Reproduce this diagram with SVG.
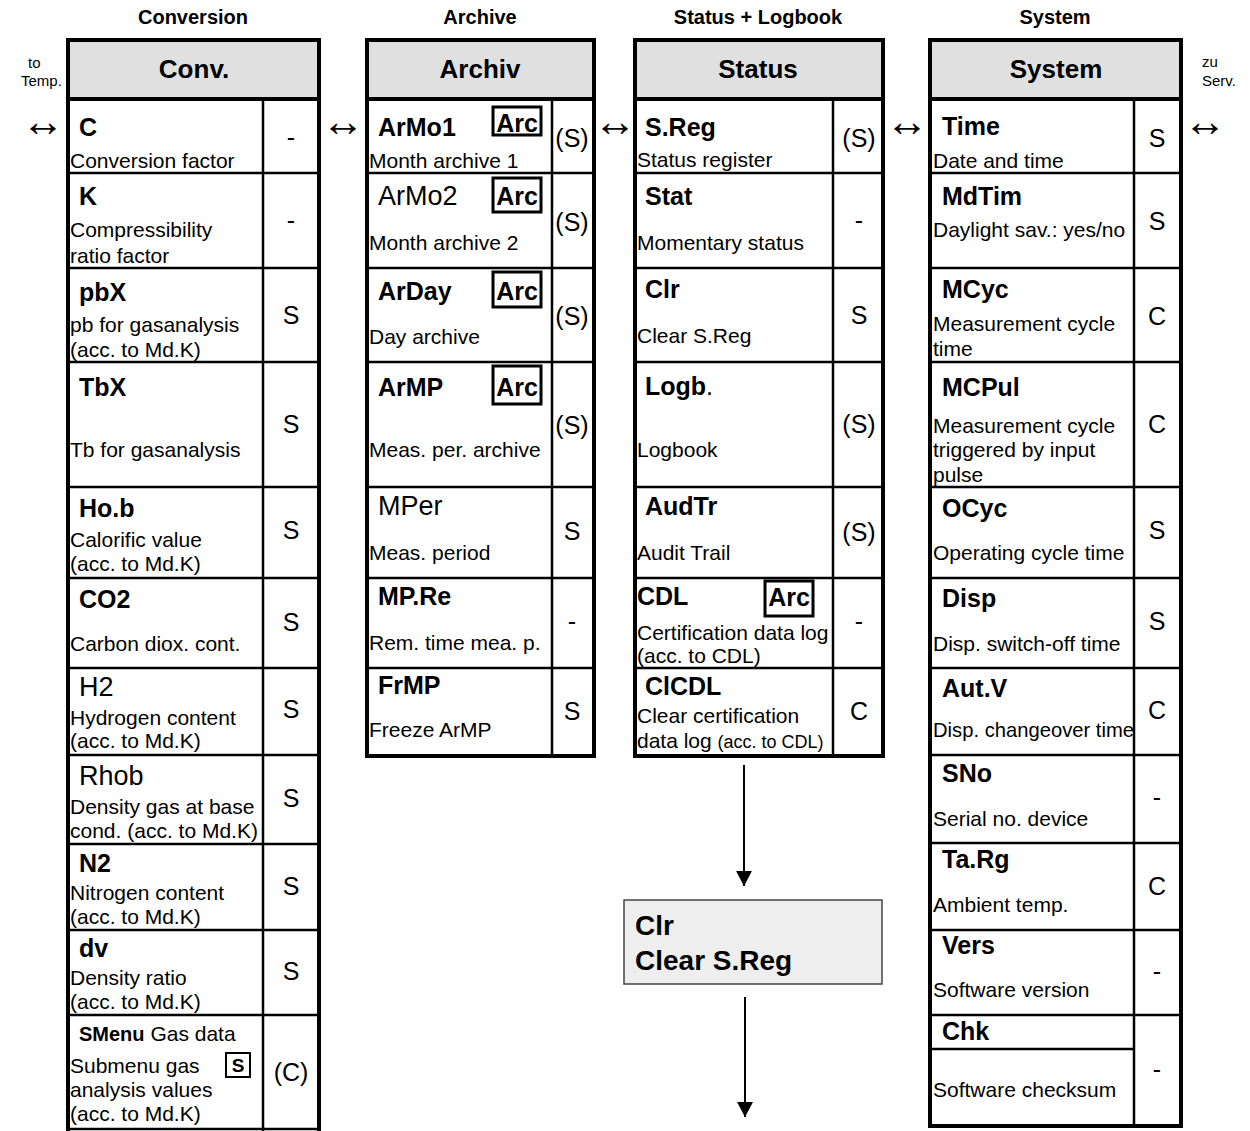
<svg xmlns="http://www.w3.org/2000/svg" width="1250" height="1131" viewBox="0 0 1250 1131">
<defs>
<style>
text{font-family:"Liberation Sans",Arial,sans-serif;fill:#000}
.grp{font-weight:bold;font-size:20px;text-anchor:middle}
.hdr{font-weight:bold;font-size:26px;text-anchor:middle}
.lb{font-weight:bold;font-size:25px}
.lr{font-size:27px}
.sub{font-size:21px}
.val{font-size:25px;text-anchor:middle}
.nav{font-size:15px}
.arr{font-family:"Liberation Serif","Times New Roman",serif;font-size:43px;text-anchor:middle}
.arc{font-weight:bold;font-size:25px;text-anchor:middle}
.hf{fill:#e0e0e0;stroke:none}
.ol{fill:none;stroke:#000;stroke-width:4}
.rl{stroke:#000;stroke-width:2.5;fill:none}
.hl{stroke:#000;stroke-width:4;fill:none}
.ab{fill:#fff;stroke:#000;stroke-width:3}
.con{stroke:#000;stroke-width:2;fill:none}
</style>
<marker id="ah" markerWidth="16" markerHeight="16" refX="15" refY="8" orient="auto" markerUnits="userSpaceOnUse">
<path d="M0,0 L15,8 L0,16 Z" fill="#000"/>
</marker>
</defs>
<rect width="1250" height="1131" fill="#fff"/>

<!-- group headers -->
<text class="grp" x="193" y="24">Conversion</text>
<text class="grp" x="480" y="24">Archive</text>
<text class="grp" x="758" y="24">Status + Logbook</text>
<text class="grp" x="1055" y="24">System</text>

<text class="nav" x="28" y="68">to</text>
<text class="nav" x="21" y="86">Temp.</text>
<text class="nav" x="1202" y="67">zu</text>
<text class="nav" x="1202" y="86">Serv.</text>

<!-- ===== Conversion ===== -->
<g id="conv">
<rect class="hf" x="68" y="40" width="251" height="59"/>
<path class="rl" d="M263,99 V1131 M68,173 H319 M68,268 H319 M68,362 H319 M68,487 H319 M68,578 H319 M68,668 H319 M68,755 H319 M68,844 H319 M68,930 H319 M68,1015 H319 M68,1129 H319"/>
<path class="hl" d="M68,99 H319"/>
<path class="ol" d="M68,1133 V40 H319 V1133"/>
<text class="hdr" x="194" y="78">Conv.</text>
<g id="conv-C"><text class="lb" x="79" y="136">C</text><text class="sub" x="70" y="168">Conversion factor</text><text class="val" x="291" y="146">-</text></g>
<g id="conv-K"><text class="lb" x="79" y="205">K</text><text class="sub" x="70" y="237">Compressibility</text><text class="sub" x="70" y="263">ratio factor</text><text class="val" x="291" y="229">-</text></g>
<g id="conv-pbX"><text class="lb" x="79" y="301">pbX</text><text class="sub" x="70" y="332">pb for gasanalysis</text><text class="sub" x="70" y="357">(acc. to Md.K)</text><text class="val" x="291" y="324">S</text></g>
<g id="conv-TbX"><text class="lb" x="79" y="396">TbX</text><text class="sub" x="70" y="457">Tb for gasanalysis</text><text class="val" x="291" y="433">S</text></g>
<g id="conv-Hob"><text class="lb" x="79" y="517">Ho.b</text><text class="sub" x="70" y="547">Calorific value</text><text class="sub" x="70" y="571">(acc. to Md.K)</text><text class="val" x="291" y="539">S</text></g>
<g id="conv-CO2"><text class="lb" x="79" y="608">CO2</text><text class="sub" x="70" y="651">Carbon diox. cont.</text><text class="val" x="291" y="631">S</text></g>
<g id="conv-H2"><text class="lr" x="79" y="696">H2</text><text class="sub" x="70" y="725">Hydrogen content</text><text class="sub" x="70" y="748">(acc. to Md.K)</text><text class="val" x="291" y="718">S</text></g>
<g id="conv-Rhob"><text class="lr" x="79" y="785">Rhob</text><text class="sub" x="70" y="814">Density gas at base</text><text class="sub" x="70" y="838">cond. (acc. to Md.K)</text><text class="val" x="291" y="807">S</text></g>
<g id="conv-N2"><text class="lb" x="79" y="872">N2</text><text class="sub" x="70" y="900">Nitrogen content</text><text class="sub" x="70" y="924">(acc. to Md.K)</text><text class="val" x="291" y="895">S</text></g>
<g id="conv-dv"><text class="lb" x="79" y="957">dv</text><text class="sub" x="70" y="985">Density ratio</text><text class="sub" x="70" y="1009">(acc. to Md.K)</text><text class="val" x="291" y="980">S</text></g>
<g id="conv-SMenu"><text x="79" y="1041"><tspan font-weight="bold" font-size="20">SMenu</tspan><tspan font-size="21"> Gas data</tspan></text>
<text class="sub" x="70" y="1073">Submenu gas</text><text class="sub" x="70" y="1097">analysis values</text><text class="sub" x="70" y="1121">(acc. to Md.K)</text>
<rect x="226" y="1053" width="24" height="24" fill="#fff" stroke="#000" stroke-width="2"/><text x="238" y="1072" font-weight="bold" font-size="19" text-anchor="middle">S</text>
<text class="val" x="291" y="1081">(C)</text></g>
</g>

<!-- ===== Archive ===== -->
<g id="archiv">
<rect class="hf" x="367" y="40" width="227" height="59"/>
<path class="rl" d="M552,99 V756 M367,173 H594 M367,268 H594 M367,362 H594 M367,487 H594 M367,578 H594 M367,668 H594"/>
<path class="hl" d="M367,99 H594"/>
<rect class="ol" x="367" y="40" width="227" height="716"/>
<text class="hdr" x="480" y="78">Archiv</text>
<g id="ar-ArMo1"><text class="lb" x="378" y="136">ArMo1</text><rect class="ab" x="493" y="107" width="48" height="28"/><text class="arc" x="517" y="132">Arc</text><text class="sub" x="369" y="168">Month archive 1</text><text class="val" x="572" y="147">(S)</text></g>
<g id="ar-ArMo2"><text class="lr" x="378" y="205">ArMo2</text><rect class="ab" x="493" y="178" width="48" height="34"/><text class="arc" x="517" y="205">Arc</text><text class="sub" x="369" y="250">Month archive 2</text><text class="val" x="572" y="231">(S)</text></g>
<g id="ar-ArDay"><text class="lb" x="378" y="300">ArDay</text><rect class="ab" x="493" y="272" width="48" height="35"/><text class="arc" x="517" y="300">Arc</text><text class="sub" x="369" y="344">Day archive</text><text class="val" x="572" y="325">(S)</text></g>
<g id="ar-ArMP"><text class="lb" x="378" y="396">ArMP</text><rect class="ab" x="493" y="366" width="48" height="38"/><text class="arc" x="517" y="396">Arc</text><text class="sub" x="369" y="457">Meas. per. archive</text><text class="val" x="572" y="434">(S)</text></g>
<g id="ar-MPer"><text class="lr" x="378" y="515">MPer</text><text class="sub" x="369" y="560">Meas. period</text><text class="val" x="572" y="540">S</text></g>
<g id="ar-MPRe"><text class="lb" x="378" y="605">MP.Re</text><text class="sub" x="369" y="650">Rem. time mea. p.</text><text class="val" x="572" y="630">-</text></g>
<g id="ar-FrMP"><text class="lb" x="378" y="694">FrMP</text><text class="sub" x="369" y="737">Freeze ArMP</text><text class="val" x="572" y="720">S</text></g>
</g>

<!-- ===== Status ===== -->
<g id="status">
<rect class="hf" x="635" y="40" width="248" height="59"/>
<path class="rl" d="M833,99 V756 M635,173 H883 M635,268 H883 M635,362 H883 M635,487 H883 M635,578 H883 M635,668 H883"/>
<path class="hl" d="M635,99 H883"/>
<rect class="ol" x="635" y="40" width="248" height="716"/>
<text class="hdr" x="758" y="78">Status</text>
<g id="st-SReg"><text class="lb" x="645" y="136">S.Reg</text><text class="sub" x="637" y="167">Status register</text><text class="val" x="859" y="147">(S)</text></g>
<g id="st-Stat"><text class="lb" x="645" y="205">Stat</text><text class="sub" x="637" y="250">Momentary status</text><text class="val" x="859" y="229">-</text></g>
<g id="st-Clr"><text class="lb" x="645" y="298">Clr</text><text class="sub" x="637" y="343">Clear S.Reg</text><text class="val" x="859" y="324">S</text></g>
<g id="st-Logb"><text x="645" y="395"><tspan font-weight="bold" font-size="25">Logb</tspan><tspan font-size="25">.</tspan></text><text class="sub" x="637" y="457">Logbook</text><text class="val" x="859" y="433">(S)</text></g>
<g id="st-AudTr"><text class="lb" x="645" y="515">AudTr</text><text class="sub" x="637" y="560">Audit Trail</text><text class="val" x="859" y="541">(S)</text></g>
<g id="st-CDL"><text class="lb" x="637" y="605">CDL</text><rect class="ab" x="765" y="581" width="48" height="35"/><text class="arc" x="789" y="606">Arc</text><text class="sub" x="637" y="640">Certification data log</text><text class="sub" x="637" y="663">(acc. to CDL)</text><text class="val" x="859" y="630">-</text></g>
<g id="st-ClCDL"><text class="lb" x="645" y="695">ClCDL</text><text class="sub" x="637" y="723">Clear certification</text><text x="637" y="748"><tspan font-size="21">data log </tspan><tspan font-size="18">(acc. to CDL)</tspan></text><text class="val" x="859" y="720">C</text></g>
</g>

<!-- ===== System ===== -->
<g id="system">
<rect class="hf" x="930" y="40" width="251" height="59"/>
<path class="rl" d="M1134,99 V1126 M930,173 H1181 M930,268 H1181 M930,362 H1181 M930,487 H1181 M930,578 H1181 M930,668 H1181 M930,755 H1181 M930,843 H1181 M930,930 H1181 M930,1015 H1181 M930,1049 H1134"/>
<path class="hl" d="M930,99 H1181"/>
<rect class="ol" x="930" y="40" width="251" height="1086"/>
<text class="hdr" x="1056" y="78">System</text>
<g id="sy-Time"><text class="lb" x="942" y="135">Time</text><text class="sub" x="933" y="168">Date and time</text><text class="val" x="1157" y="147">S</text></g>
<g id="sy-MdTim"><text class="lb" x="942" y="205">MdTim</text><text class="sub" x="933" y="237">Daylight sav.: yes/no</text><text class="val" x="1157" y="230">S</text></g>
<g id="sy-MCyc"><text class="lb" x="942" y="298">MCyc</text><text class="sub" x="933" y="331">Measurement cycle</text><text class="sub" x="933" y="356">time</text><text class="val" x="1157" y="325">C</text></g>
<g id="sy-MCPul"><text class="lb" x="942" y="396">MCPul</text><text class="sub" x="933" y="433">Measurement cycle</text><text class="sub" x="933" y="457">triggered by input</text><text class="sub" x="933" y="482">pulse</text><text class="val" x="1157" y="433">C</text></g>
<g id="sy-OCyc"><text class="lb" x="942" y="517">OCyc</text><text class="sub" x="933" y="560">Operating cycle time</text><text class="val" x="1157" y="539">S</text></g>
<g id="sy-Disp"><text class="lb" x="942" y="607">Disp</text><text class="sub" x="933" y="651">Disp. switch-off time</text><text class="val" x="1157" y="630">S</text></g>
<g id="sy-AutV"><text class="lb" x="942" y="697">Aut.V</text><text class="sub" x="933" y="737" textLength="201" lengthAdjust="spacingAndGlyphs">Disp. changeover time</text><text class="val" x="1157" y="719">C</text></g>
<g id="sy-SNo"><text class="lb" x="942" y="782">SNo</text><text class="sub" x="933" y="826">Serial no. device</text><text class="val" x="1157" y="806">-</text></g>
<g id="sy-TaRg"><text class="lb" x="942" y="868">Ta.Rg</text><text class="sub" x="933" y="912">Ambient temp.</text><text class="val" x="1157" y="895">C</text></g>
<g id="sy-Vers"><text class="lb" x="942" y="954">Vers</text><text class="sub" x="933" y="997">Software version</text><text class="val" x="1157" y="980">-</text></g>
<g id="sy-Chk"><text class="lb" x="942" y="1040">Chk</text><text class="sub" x="933" y="1097">Software checksum</text><text class="val" x="1157" y="1078">-</text></g>
</g>

<!-- ===== Clear box ===== -->
<g id="clr-box">
<rect x="624" y="900" width="258" height="84" fill="#eeeeee" stroke="#444" stroke-width="1.5"/>
<text x="635" y="935" font-weight="bold" font-size="28">Clr</text>
<text x="635" y="970" font-weight="bold" font-size="28">Clear S.Reg</text>
</g>

<!-- ===== connectors ===== -->
<g id="connectors">
<line class="con" x1="744" y1="765" x2="744" y2="886" marker-end="url(#ah)"/>
<line class="con" x1="745" y1="997" x2="745" y2="1117" marker-end="url(#ah)"/>
<text class="arr" x="43" y="136">↔</text>
<text class="arr" x="343" y="136">↔</text>
<text class="arr" x="615" y="136">↔</text>
<text class="arr" x="907" y="136">↔</text>
<text class="arr" x="1205" y="136">↔</text>
</g>
</svg>
